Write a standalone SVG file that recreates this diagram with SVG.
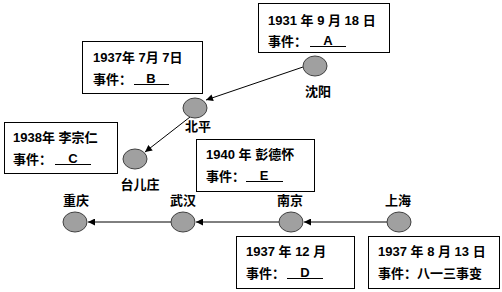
<svg xmlns="http://www.w3.org/2000/svg" width="502" height="292" viewBox="0 0 502 292">
<style>
text{font-family:"Liberation Sans","Noto Sans CJK SC",sans-serif;font-size:13px;font-weight:bold;fill:#000}
.box{fill:#fff;stroke:#000;stroke-width:1}
.city{fill:#a0a0a0;stroke:#404040;stroke-width:1}
.lbl{text-anchor:middle}
.ul{stroke:#000;stroke-width:1}
.conn{stroke:#000;stroke-width:1;fill:none;marker-end:url(#ah)}
</style>
<defs>
<marker id="ah" viewBox="0 0 10 10" refX="10" refY="5" markerWidth="8" markerHeight="7" markerUnits="userSpaceOnUse" orient="auto">
<path d="M0,0 L10,5 L0,10 z" fill="#000"/>
</marker>
</defs>
<rect width="502" height="292" fill="#fff"/>
<g id="connectors">
<line class="conn" x1="303" y1="67" x2="206" y2="100"/>
<line class="conn" x1="190" y1="117" x2="145" y2="152"/>
<line class="conn" x1="387" y1="222" x2="304" y2="222"/>
<line class="conn" x1="279" y1="222" x2="196" y2="222"/>
<line class="conn" x1="171" y1="222" x2="88" y2="222"/>
</g>
<g id="box-1931">
<rect class="box" x="258.5" y="3.5" width="131" height="49"/>
<text x="268" y="25">1931 年 9 月 18 日</text>
<text x="268" y="46">事件：</text>
<text x="328" y="45" class="lbl">A</text>
<line class="ul" x1="310" y1="46.5" x2="346" y2="46.5"/>
</g>
<g id="box-1937-7">
<rect class="box" x="82.5" y="41.5" width="120" height="52"/>
<text x="93" y="62">1937年 7月 7日</text>
<text x="93" y="84">事件：</text>
<text x="151" y="83" class="lbl">B</text>
<line class="ul" x1="134" y1="84.5" x2="169" y2="84.5"/>
</g>
<g id="box-1938">
<rect class="box" x="4.5" y="122.5" width="113" height="51"/>
<text x="13" y="142">1938年 李宗仁</text>
<text x="13" y="164">事件：</text>
<text x="73" y="163" class="lbl">C</text>
<line class="ul" x1="55" y1="164.5" x2="91" y2="164.5"/>
</g>
<g id="box-1940">
<rect class="box" x="196.5" y="139.5" width="118" height="52"/>
<text x="206" y="159">1940 年 彭德怀</text>
<text x="206" y="181">事件：</text>
<text x="264" y="180" class="lbl">E</text>
<line class="ul" x1="246" y1="181.5" x2="283" y2="181.5"/>
</g>
<g id="box-1937-12">
<rect class="box" x="236.5" y="236.5" width="118" height="52"/>
<text x="246" y="256">1937 年 12 月</text>
<text x="246" y="278">事件：</text>
<text x="305" y="277" class="lbl">D</text>
<line class="ul" x1="287" y1="278.5" x2="323" y2="278.5"/>
</g>
<g id="box-1937-8">
<rect class="box" x="368.5" y="236.5" width="131" height="52"/>
<text x="378" y="256">1937 年 8 月 13 日</text>
<text x="378" y="278">事件：八一三事变</text>
</g>
<g id="node-shenyang">
<ellipse class="city" cx="315" cy="66" rx="12" ry="10"/>
<text class="lbl" x="318" y="96">沈阳</text>
</g>
<g id="node-beiping">
<ellipse class="city" cx="195" cy="108" rx="12" ry="10"/>
<text class="lbl" x="198" y="131">北平</text>
</g>
<g id="node-taierzhuang">
<ellipse class="city" cx="135" cy="159" rx="12" ry="10"/>
<text class="lbl" x="140" y="189">台儿庄</text>
</g>
<g id="node-chongqing">
<ellipse class="city" cx="75" cy="222" rx="12" ry="10"/>
<text class="lbl" x="76" y="205">重庆</text>
</g>
<g id="node-wuhan">
<ellipse class="city" cx="183" cy="222" rx="12" ry="10"/>
<text class="lbl" x="183" y="205">武汉</text>
</g>
<g id="node-nanjing">
<ellipse class="city" cx="291" cy="222" rx="12" ry="10"/>
<text class="lbl" x="290" y="205">南京</text>
</g>
<g id="node-shanghai">
<ellipse class="city" cx="399" cy="222" rx="12" ry="10"/>
<text class="lbl" x="398" y="205">上海</text>
</g>
</svg>
